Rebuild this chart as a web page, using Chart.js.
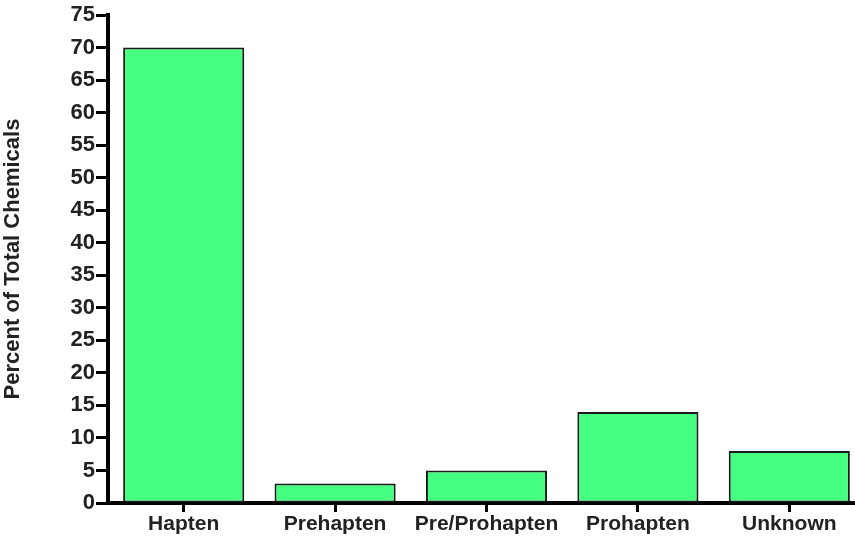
<!DOCTYPE html>
<html>
<head>
<meta charset="utf-8">
<script src="https://cdn.jsdelivr.net/npm/chart.js@4/dist/chart.umd.min.js"></script>
<style>
  html, body { margin: 0; padding: 0; background: #fff; overflow: hidden; }
  #wrap { width: 865px; height: 545px; }
</style>
</head>
<body>
<div id="wrap"><canvas id="chart"></canvas></div>
<script>
const categories = ["Hapten", "Prehapten", "Pre/Prohapten", "Prohapten", "Unknown"];
const percents = [70, 3, 5, 14, 8];
const yTicks = [0, 5, 10, 15, 20, 25, 30, 35, 40, 45, 50, 55, 60, 65, 70, 75];

const font = { family: "'Liberation Sans', Arial, sans-serif", weight: "bold", size: 21 };

new Chart(document.getElementById("chart"), {
  type: "bar",
  data: {
    labels: categories,
    datasets: [{
      data: percents,
      backgroundColor: "#45ff80",
      borderColor: "#1a1a1a",
      borderWidth: 2,
      borderSkipped: false,
      barPercentage: 0.8,
      categoryPercentage: 1.0
    }]
  },
  options: {
    responsive: true,
    maintainAspectRatio: false,
    animation: false,
    layout: { padding: { top: 15, left: 0, right: 0, bottom: 0 } },
    plugins: { legend: { display: false }, tooltip: { enabled: false } },
    scales: {
      x: {
        grid: { offset: false, drawOnChartArea: false, tickLength: 9, tickWidth: 3, tickColor: "#000" },
        border: { display: true, color: "#000", width: 4 },
        ticks: { color: "#222", font: font, padding: 0, maxRotation: 0 },
        afterFit: s => { s.height = 42; }
      },
      y: {
        min: 0,
        max: 75,
        afterBuildTicks: s => { s.ticks = yTicks.map(v => ({ value: v })); },
        grid: { drawOnChartArea: false, tickLength: 12, tickWidth: 3, tickColor: "#000" },
        border: { display: true, color: "#000", width: 4 },
        ticks: { color: "#222", font: { ...font, size: 22 }, padding: 1 },
        title: { display: true, text: "Percent of Total Chemicals", color: "#222", font: { ...font, size: 22 }, padding: { top: 0, bottom: 4 } },
        afterFit: s => { s.width = 108; }
      }
    }
  }
});
</script>
</body>
</html>
